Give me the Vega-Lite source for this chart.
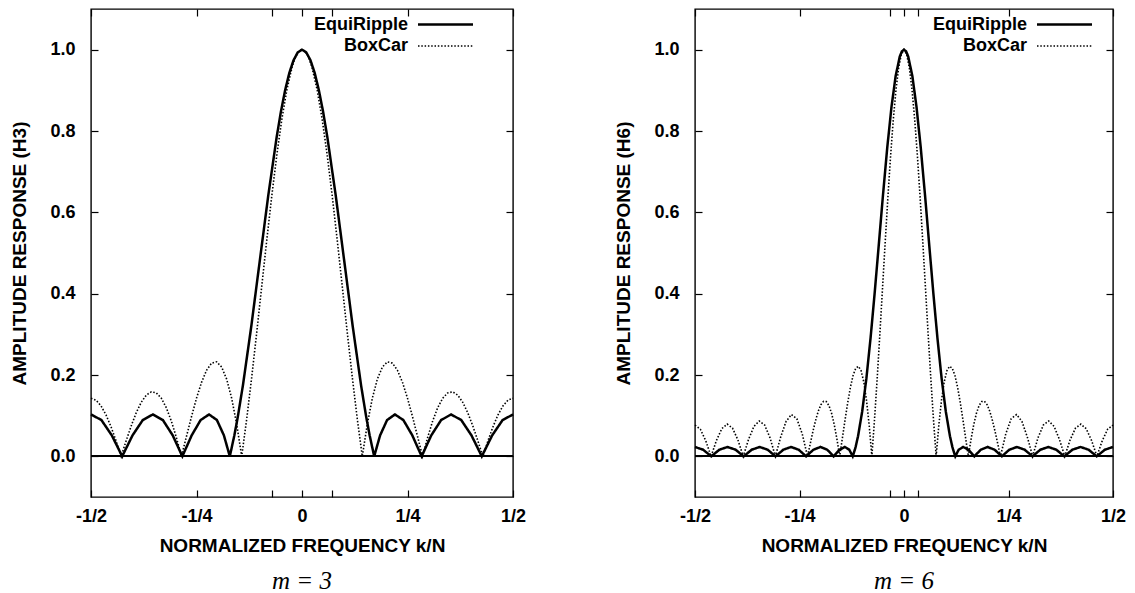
{
  "$schema": "https://vega.github.io/schema/vega-lite/v6.json",
  "padding": {"left": 10, "top": 7, "right": 0, "bottom": 0},
  "background": "white",
  "spacing": 87,
  "config": {
    "font": "Liberation Sans",
    "view": {"stroke": "black", "strokeWidth": 1.4},
    "axis": {
      "grid": false, "domain": false,
      "labelFont": "Liberation Sans", "labelFontWeight": "bold", "labelFontSize": 18, "labelColor": "black",
      "titleFont": "Liberation Sans", "titleFontWeight": "bold", "titleFontSize": 19, "titleColor": "black",
      "tickColor": "black", "tickSize": -7, "tickWidth": 1.2
    },
    "legend": {
      "orient": "none", "padding": 0, "title": null,
      "labelFont": "Liberation Sans", "labelFontWeight": "bold", "labelFontSize": 18, "labelColor": "black",
      "labelAlign": "right", "labelOffset": -50, "symbolType": "M-2.5,0H2.5", "symbolSize": 484,
      "symbolStrokeColor": "black", "rowPadding": -1
    },
    "title": {"font": "Liberation Serif", "fontStyle": "italic", "fontWeight": "normal", "fontSize": 25, "color": "black", "orient": "bottom", "offset": 14}
  },
  "resolve": {"legend": {"strokeDash": "independent", "strokeWidth": "independent"}},
  "datasets": {
    "m3": [
      {"series": "EquiRipple", "freq": -0.5, "amp": 0.103},
      {"series": "EquiRipple", "freq": -0.47531, "amp": 0.0892},
      {"series": "EquiRipple", "freq": -0.45064, "amp": 0.0515},
      {"series": "EquiRipple", "freq": -0.42606, "amp": 0},
      {"series": "EquiRipple", "freq": -0.40161, "amp": 0.0515},
      {"series": "EquiRipple", "freq": -0.37733, "amp": 0.0892},
      {"series": "EquiRipple", "freq": -0.35333, "amp": 0.103},
      {"series": "EquiRipple", "freq": -0.32967, "amp": 0.0892},
      {"series": "EquiRipple", "freq": -0.30631, "amp": 0.0515},
      {"series": "EquiRipple", "freq": -0.28353, "amp": 0},
      {"series": "EquiRipple", "freq": -0.26144, "amp": 0.0515},
      {"series": "EquiRipple", "freq": -0.24022, "amp": 0.0892},
      {"series": "EquiRipple", "freq": -0.22017, "amp": 0.103},
      {"series": "EquiRipple", "freq": -0.20161, "amp": 0.0892},
      {"series": "EquiRipple", "freq": -0.18506, "amp": 0.0515},
      {"series": "EquiRipple", "freq": -0.17106, "amp": 0},
      {"series": "EquiRipple", "freq": -0.16033, "amp": 0.0515},
      {"series": "EquiRipple", "freq": -0.15352, "amp": 0.0892},
      {"series": "EquiRipple", "freq": -0.15119, "amp": 0.103},
      {"series": "EquiRipple", "freq": -0.14, "amp": 0.1745},
      {"series": "EquiRipple", "freq": -0.12, "amp": 0.3211},
      {"series": "EquiRipple", "freq": -0.1, "amp": 0.4812},
      {"series": "EquiRipple", "freq": -0.08, "amp": 0.6409},
      {"series": "EquiRipple", "freq": -0.06, "amp": 0.7853},
      {"series": "EquiRipple", "freq": -0.05, "amp": 0.8473},
      {"series": "EquiRipple", "freq": -0.04, "amp": 0.9002},
      {"series": "EquiRipple", "freq": -0.03, "amp": 0.943},
      {"series": "EquiRipple", "freq": -0.02, "amp": 0.9742},
      {"series": "EquiRipple", "freq": -0.01, "amp": 0.9934},
      {"series": "EquiRipple", "freq": 0, "amp": 1},
      {"series": "EquiRipple", "freq": 0.01, "amp": 0.9934},
      {"series": "EquiRipple", "freq": 0.02, "amp": 0.9742},
      {"series": "EquiRipple", "freq": 0.03, "amp": 0.943},
      {"series": "EquiRipple", "freq": 0.04, "amp": 0.9002},
      {"series": "EquiRipple", "freq": 0.05, "amp": 0.8473},
      {"series": "EquiRipple", "freq": 0.06, "amp": 0.7853},
      {"series": "EquiRipple", "freq": 0.08, "amp": 0.6409},
      {"series": "EquiRipple", "freq": 0.1, "amp": 0.4812},
      {"series": "EquiRipple", "freq": 0.12, "amp": 0.3211},
      {"series": "EquiRipple", "freq": 0.14, "amp": 0.1745},
      {"series": "EquiRipple", "freq": 0.15119, "amp": 0.103},
      {"series": "EquiRipple", "freq": 0.15352, "amp": 0.0892},
      {"series": "EquiRipple", "freq": 0.16033, "amp": 0.0515},
      {"series": "EquiRipple", "freq": 0.17106, "amp": 0},
      {"series": "EquiRipple", "freq": 0.18506, "amp": 0.0515},
      {"series": "EquiRipple", "freq": 0.20161, "amp": 0.0892},
      {"series": "EquiRipple", "freq": 0.22017, "amp": 0.103},
      {"series": "EquiRipple", "freq": 0.24022, "amp": 0.0892},
      {"series": "EquiRipple", "freq": 0.26144, "amp": 0.0515},
      {"series": "EquiRipple", "freq": 0.28353, "amp": 0},
      {"series": "EquiRipple", "freq": 0.30631, "amp": 0.0515},
      {"series": "EquiRipple", "freq": 0.32967, "amp": 0.0892},
      {"series": "EquiRipple", "freq": 0.35333, "amp": 0.103},
      {"series": "EquiRipple", "freq": 0.37733, "amp": 0.0892},
      {"series": "EquiRipple", "freq": 0.40161, "amp": 0.0515},
      {"series": "EquiRipple", "freq": 0.42606, "amp": 0},
      {"series": "EquiRipple", "freq": 0.45064, "amp": 0.0515},
      {"series": "EquiRipple", "freq": 0.47531, "amp": 0.0892},
      {"series": "EquiRipple", "freq": 0.5, "amp": 0.103},
      {"series": "BoxCar", "freq": -0.5, "amp": 0.14286},
      {"series": "BoxCar", "freq": -0.4881, "amp": 0.13809},
      {"series": "BoxCar", "freq": -0.47619, "amp": 0.12407},
      {"series": "BoxCar", "freq": -0.46429, "amp": 0.10165},
      {"series": "BoxCar", "freq": -0.45238, "amp": 0.07224},
      {"series": "BoxCar", "freq": -0.44048, "amp": 0.03763},
      {"series": "BoxCar", "freq": -0.42857, "amp": 0},
      {"series": "BoxCar", "freq": -0.41667, "amp": 0.03828},
      {"series": "BoxCar", "freq": -0.40476, "amp": 0.07475},
      {"series": "BoxCar", "freq": -0.39286, "amp": 0.10702},
      {"series": "BoxCar", "freq": -0.38095, "amp": 0.13291},
      {"series": "BoxCar", "freq": -0.36905, "amp": 0.15055},
      {"series": "BoxCar", "freq": -0.35714, "amp": 0.15856},
      {"series": "BoxCar", "freq": -0.34524, "amp": 0.15608},
      {"series": "BoxCar", "freq": -0.33333, "amp": 0.14286},
      {"series": "BoxCar", "freq": -0.32143, "amp": 0.1193},
      {"series": "BoxCar", "freq": -0.30952, "amp": 0.08645},
      {"series": "BoxCar", "freq": -0.29762, "amp": 0.04595},
      {"series": "BoxCar", "freq": -0.28571, "amp": 0},
      {"series": "BoxCar", "freq": -0.27381, "amp": 0.04878},
      {"series": "BoxCar", "freq": -0.2619, "amp": 0.09744},
      {"series": "BoxCar", "freq": -0.25, "amp": 0.14286},
      {"series": "BoxCar", "freq": -0.2381, "amp": 0.18189},
      {"series": "BoxCar", "freq": -0.22619, "amp": 0.21155},
      {"series": "BoxCar", "freq": -0.21429, "amp": 0.22912},
      {"series": "BoxCar", "freq": -0.20238, "amp": 0.23237},
      {"series": "BoxCar", "freq": -0.19048, "amp": 0.21962},
      {"series": "BoxCar", "freq": -0.17857, "amp": 0.18987},
      {"series": "BoxCar", "freq": -0.16667, "amp": 0.14286},
      {"series": "BoxCar", "freq": -0.15476, "amp": 0.07913},
      {"series": "BoxCar", "freq": -0.14286, "amp": 0},
      {"series": "BoxCar", "freq": -0.13095, "amp": 0.09246},
      {"series": "BoxCar", "freq": -0.11905, "amp": 0.19551},
      {"series": "BoxCar", "freq": -0.10714, "amp": 0.30585},
      {"series": "BoxCar", "freq": -0.09524, "amp": 0.41973},
      {"series": "BoxCar", "freq": -0.08333, "amp": 0.53315},
      {"series": "BoxCar", "freq": -0.07143, "amp": 0.64199},
      {"series": "BoxCar", "freq": -0.05952, "amp": 0.74223},
      {"series": "BoxCar", "freq": -0.04762, "amp": 0.83009},
      {"series": "BoxCar", "freq": -0.03571, "amp": 0.90221},
      {"series": "BoxCar", "freq": -0.02381, "amp": 0.95583},
      {"series": "BoxCar", "freq": -0.01786, "amp": 0.97501},
      {"series": "BoxCar", "freq": -0.0119, "amp": 0.98885},
      {"series": "BoxCar", "freq": -0.00595, "amp": 0.9972},
      {"series": "BoxCar", "freq": 0, "amp": 1},
      {"series": "BoxCar", "freq": 0.00595, "amp": 0.9972},
      {"series": "BoxCar", "freq": 0.0119, "amp": 0.98885},
      {"series": "BoxCar", "freq": 0.01786, "amp": 0.97501},
      {"series": "BoxCar", "freq": 0.02381, "amp": 0.95583},
      {"series": "BoxCar", "freq": 0.03571, "amp": 0.90221},
      {"series": "BoxCar", "freq": 0.04762, "amp": 0.83009},
      {"series": "BoxCar", "freq": 0.05952, "amp": 0.74223},
      {"series": "BoxCar", "freq": 0.07143, "amp": 0.64199},
      {"series": "BoxCar", "freq": 0.08333, "amp": 0.53315},
      {"series": "BoxCar", "freq": 0.09524, "amp": 0.41973},
      {"series": "BoxCar", "freq": 0.10714, "amp": 0.30585},
      {"series": "BoxCar", "freq": 0.11905, "amp": 0.19551},
      {"series": "BoxCar", "freq": 0.13095, "amp": 0.09246},
      {"series": "BoxCar", "freq": 0.14286, "amp": 0},
      {"series": "BoxCar", "freq": 0.15476, "amp": 0.07913},
      {"series": "BoxCar", "freq": 0.16667, "amp": 0.14286},
      {"series": "BoxCar", "freq": 0.17857, "amp": 0.18987},
      {"series": "BoxCar", "freq": 0.19048, "amp": 0.21962},
      {"series": "BoxCar", "freq": 0.20238, "amp": 0.23237},
      {"series": "BoxCar", "freq": 0.21429, "amp": 0.22912},
      {"series": "BoxCar", "freq": 0.22619, "amp": 0.21155},
      {"series": "BoxCar", "freq": 0.2381, "amp": 0.18189},
      {"series": "BoxCar", "freq": 0.25, "amp": 0.14286},
      {"series": "BoxCar", "freq": 0.2619, "amp": 0.09744},
      {"series": "BoxCar", "freq": 0.27381, "amp": 0.04878},
      {"series": "BoxCar", "freq": 0.28571, "amp": 0},
      {"series": "BoxCar", "freq": 0.29762, "amp": 0.04595},
      {"series": "BoxCar", "freq": 0.30952, "amp": 0.08645},
      {"series": "BoxCar", "freq": 0.32143, "amp": 0.1193},
      {"series": "BoxCar", "freq": 0.33333, "amp": 0.14286},
      {"series": "BoxCar", "freq": 0.34524, "amp": 0.15608},
      {"series": "BoxCar", "freq": 0.35714, "amp": 0.15856},
      {"series": "BoxCar", "freq": 0.36905, "amp": 0.15055},
      {"series": "BoxCar", "freq": 0.38095, "amp": 0.13291},
      {"series": "BoxCar", "freq": 0.39286, "amp": 0.10702},
      {"series": "BoxCar", "freq": 0.40476, "amp": 0.07475},
      {"series": "BoxCar", "freq": 0.41667, "amp": 0.03828},
      {"series": "BoxCar", "freq": 0.42857, "amp": 0},
      {"series": "BoxCar", "freq": 0.44048, "amp": 0.03763},
      {"series": "BoxCar", "freq": 0.45238, "amp": 0.07224},
      {"series": "BoxCar", "freq": 0.46429, "amp": 0.10165},
      {"series": "BoxCar", "freq": 0.47619, "amp": 0.12407},
      {"series": "BoxCar", "freq": 0.4881, "amp": 0.13809},
      {"series": "BoxCar", "freq": 0.5, "amp": 0.14286}
    ],
    "m6": [
      {"series": "EquiRipple", "freq": -0.5, "amp": 0.02303},
      {"series": "EquiRipple", "freq": -0.48053, "amp": 0.01628},
      {"series": "EquiRipple", "freq": -0.46107, "amp": 0},
      {"series": "EquiRipple", "freq": -0.44163, "amp": 0.01628},
      {"series": "EquiRipple", "freq": -0.42223, "amp": 0.02303},
      {"series": "EquiRipple", "freq": -0.40287, "amp": 0.01628},
      {"series": "EquiRipple", "freq": -0.38358, "amp": 0},
      {"series": "EquiRipple", "freq": -0.36435, "amp": 0.01628},
      {"series": "EquiRipple", "freq": -0.34523, "amp": 0.02303},
      {"series": "EquiRipple", "freq": -0.32622, "amp": 0.01628},
      {"series": "EquiRipple", "freq": -0.30735, "amp": 0},
      {"series": "EquiRipple", "freq": -0.28867, "amp": 0.01628},
      {"series": "EquiRipple", "freq": -0.27019, "amp": 0.02303},
      {"series": "EquiRipple", "freq": -0.25199, "amp": 0.01628},
      {"series": "EquiRipple", "freq": -0.23413, "amp": 0},
      {"series": "EquiRipple", "freq": -0.2167, "amp": 0.01628},
      {"series": "EquiRipple", "freq": -0.19981, "amp": 0.02303},
      {"series": "EquiRipple", "freq": -0.18361, "amp": 0.01628},
      {"series": "EquiRipple", "freq": -0.16829, "amp": 0},
      {"series": "EquiRipple", "freq": -0.15416, "amp": 0.01628},
      {"series": "EquiRipple", "freq": -0.14153, "amp": 0.02303},
      {"series": "EquiRipple", "freq": -0.13088, "amp": 0.01628},
      {"series": "EquiRipple", "freq": -0.12272, "amp": 0},
      {"series": "EquiRipple", "freq": -0.11754, "amp": 0.01628},
      {"series": "EquiRipple", "freq": -0.11577, "amp": 0.02303},
      {"series": "EquiRipple", "freq": -0.11, "amp": 0.04921},
      {"series": "EquiRipple", "freq": -0.1, "amp": 0.11045},
      {"series": "EquiRipple", "freq": -0.09, "amp": 0.19165},
      {"series": "EquiRipple", "freq": -0.08, "amp": 0.29071},
      {"series": "EquiRipple", "freq": -0.07, "amp": 0.40354},
      {"series": "EquiRipple", "freq": -0.06, "amp": 0.52428},
      {"series": "EquiRipple", "freq": -0.05, "amp": 0.64567},
      {"series": "EquiRipple", "freq": -0.04, "amp": 0.7598},
      {"series": "EquiRipple", "freq": -0.03, "amp": 0.85867},
      {"series": "EquiRipple", "freq": -0.02, "amp": 0.93514},
      {"series": "EquiRipple", "freq": -0.01, "amp": 0.98347},
      {"series": "EquiRipple", "freq": -0.005, "amp": 0.99586},
      {"series": "EquiRipple", "freq": 0, "amp": 1},
      {"series": "EquiRipple", "freq": 0.005, "amp": 0.99586},
      {"series": "EquiRipple", "freq": 0.01, "amp": 0.98347},
      {"series": "EquiRipple", "freq": 0.02, "amp": 0.93514},
      {"series": "EquiRipple", "freq": 0.03, "amp": 0.85867},
      {"series": "EquiRipple", "freq": 0.04, "amp": 0.7598},
      {"series": "EquiRipple", "freq": 0.05, "amp": 0.64567},
      {"series": "EquiRipple", "freq": 0.06, "amp": 0.52428},
      {"series": "EquiRipple", "freq": 0.07, "amp": 0.40354},
      {"series": "EquiRipple", "freq": 0.08, "amp": 0.29071},
      {"series": "EquiRipple", "freq": 0.09, "amp": 0.19165},
      {"series": "EquiRipple", "freq": 0.1, "amp": 0.11045},
      {"series": "EquiRipple", "freq": 0.11, "amp": 0.04921},
      {"series": "EquiRipple", "freq": 0.11577, "amp": 0.02303},
      {"series": "EquiRipple", "freq": 0.11754, "amp": 0.01628},
      {"series": "EquiRipple", "freq": 0.12272, "amp": 0},
      {"series": "EquiRipple", "freq": 0.13088, "amp": 0.01628},
      {"series": "EquiRipple", "freq": 0.14153, "amp": 0.02303},
      {"series": "EquiRipple", "freq": 0.15416, "amp": 0.01628},
      {"series": "EquiRipple", "freq": 0.16829, "amp": 0},
      {"series": "EquiRipple", "freq": 0.18361, "amp": 0.01628},
      {"series": "EquiRipple", "freq": 0.19981, "amp": 0.02303},
      {"series": "EquiRipple", "freq": 0.2167, "amp": 0.01628},
      {"series": "EquiRipple", "freq": 0.23413, "amp": 0},
      {"series": "EquiRipple", "freq": 0.25199, "amp": 0.01628},
      {"series": "EquiRipple", "freq": 0.27019, "amp": 0.02303},
      {"series": "EquiRipple", "freq": 0.28867, "amp": 0.01628},
      {"series": "EquiRipple", "freq": 0.30735, "amp": 0},
      {"series": "EquiRipple", "freq": 0.32622, "amp": 0.01628},
      {"series": "EquiRipple", "freq": 0.34523, "amp": 0.02303},
      {"series": "EquiRipple", "freq": 0.36435, "amp": 0.01628},
      {"series": "EquiRipple", "freq": 0.38358, "amp": 0},
      {"series": "EquiRipple", "freq": 0.40287, "amp": 0.01628},
      {"series": "EquiRipple", "freq": 0.42223, "amp": 0.02303},
      {"series": "EquiRipple", "freq": 0.44163, "amp": 0.01628},
      {"series": "EquiRipple", "freq": 0.46107, "amp": 0},
      {"series": "EquiRipple", "freq": 0.48053, "amp": 0.01628},
      {"series": "EquiRipple", "freq": 0.5, "amp": 0.02303},
      {"series": "BoxCar", "freq": -0.5, "amp": 0.07692},
      {"series": "BoxCar", "freq": -0.48718, "amp": 0.06667},
      {"series": "BoxCar", "freq": -0.47436, "amp": 0.03859},
      {"series": "BoxCar", "freq": -0.46154, "amp": 0},
      {"series": "BoxCar", "freq": -0.44872, "amp": 0.03897},
      {"series": "BoxCar", "freq": -0.4359, "amp": 0.06799},
      {"series": "BoxCar", "freq": -0.42308, "amp": 0.07922},
      {"series": "BoxCar", "freq": -0.41026, "amp": 0.06936},
      {"series": "BoxCar", "freq": -0.39744, "amp": 0.04055},
      {"series": "BoxCar", "freq": -0.38462, "amp": 0},
      {"series": "BoxCar", "freq": -0.37179, "amp": 0.04181},
      {"series": "BoxCar", "freq": -0.35897, "amp": 0.07374},
      {"series": "BoxCar", "freq": -0.34615, "amp": 0.08687},
      {"series": "BoxCar", "freq": -0.33333, "amp": 0.07692},
      {"series": "BoxCar", "freq": -0.32051, "amp": 0.04551},
      {"series": "BoxCar", "freq": -0.30769, "amp": 0},
      {"series": "BoxCar", "freq": -0.29487, "amp": 0.04811},
      {"series": "BoxCar", "freq": -0.28205, "amp": 0.086},
      {"series": "BoxCar", "freq": -0.26923, "amp": 0.10277},
      {"series": "BoxCar", "freq": -0.25641, "amp": 0.09237},
      {"series": "BoxCar", "freq": -0.24359, "amp": 0.05552},
      {"series": "BoxCar", "freq": -0.23077, "amp": 0},
      {"series": "BoxCar", "freq": -0.22436, "amp": 0.03073},
      {"series": "BoxCar", "freq": -0.21795, "amp": 0.06081},
      {"series": "BoxCar", "freq": -0.21154, "amp": 0.0882},
      {"series": "BoxCar", "freq": -0.20513, "amp": 0.11089},
      {"series": "BoxCar", "freq": -0.19872, "amp": 0.12711},
      {"series": "BoxCar", "freq": -0.19231, "amp": 0.13541},
      {"series": "BoxCar", "freq": -0.1859, "amp": 0.13476},
      {"series": "BoxCar", "freq": -0.17949, "amp": 0.12464},
      {"series": "BoxCar", "freq": -0.17308, "amp": 0.10514},
      {"series": "BoxCar", "freq": -0.16667, "amp": 0.07692},
      {"series": "BoxCar", "freq": -0.16026, "amp": 0.04127},
      {"series": "BoxCar", "freq": -0.15385, "amp": 0},
      {"series": "BoxCar", "freq": -0.14744, "amp": 0.04456},
      {"series": "BoxCar", "freq": -0.14103, "amp": 0.08972},
      {"series": "BoxCar", "freq": -0.13462, "amp": 0.13253},
      {"series": "BoxCar", "freq": -0.12821, "amp": 0.16996},
      {"series": "BoxCar", "freq": -0.12179, "amp": 0.19901},
      {"series": "BoxCar", "freq": -0.11538, "amp": 0.21693},
      {"series": "BoxCar", "freq": -0.10897, "amp": 0.22133},
      {"series": "BoxCar", "freq": -0.10256, "amp": 0.21037},
      {"series": "BoxCar", "freq": -0.09615, "amp": 0.18283},
      {"series": "BoxCar", "freq": -0.08974, "amp": 0.13824},
      {"series": "BoxCar", "freq": -0.08333, "amp": 0.07692},
      {"series": "BoxCar", "freq": -0.07692, "amp": 0},
      {"series": "BoxCar", "freq": -0.07051, "amp": 0.09061},
      {"series": "BoxCar", "freq": -0.0641, "amp": 0.19228},
      {"series": "BoxCar", "freq": -0.05769, "amp": 0.30175},
      {"series": "BoxCar", "freq": -0.05128, "amp": 0.41529},
      {"series": "BoxCar", "freq": -0.04487, "amp": 0.52883},
      {"series": "BoxCar", "freq": -0.03846, "amp": 0.63817},
      {"series": "BoxCar", "freq": -0.03205, "amp": 0.73916},
      {"series": "BoxCar", "freq": -0.02564, "amp": 0.82789},
      {"series": "BoxCar", "freq": -0.01923, "amp": 0.90086},
      {"series": "BoxCar", "freq": -0.01282, "amp": 0.95519},
      {"series": "BoxCar", "freq": -0.00641, "amp": 0.98869},
      {"series": "BoxCar", "freq": 0, "amp": 1},
      {"series": "BoxCar", "freq": 0.00641, "amp": 0.98869},
      {"series": "BoxCar", "freq": 0.01282, "amp": 0.95519},
      {"series": "BoxCar", "freq": 0.01923, "amp": 0.90086},
      {"series": "BoxCar", "freq": 0.02564, "amp": 0.82789},
      {"series": "BoxCar", "freq": 0.03205, "amp": 0.73916},
      {"series": "BoxCar", "freq": 0.03846, "amp": 0.63817},
      {"series": "BoxCar", "freq": 0.04487, "amp": 0.52883},
      {"series": "BoxCar", "freq": 0.05128, "amp": 0.41529},
      {"series": "BoxCar", "freq": 0.05769, "amp": 0.30175},
      {"series": "BoxCar", "freq": 0.0641, "amp": 0.19228},
      {"series": "BoxCar", "freq": 0.07051, "amp": 0.09061},
      {"series": "BoxCar", "freq": 0.07692, "amp": 0},
      {"series": "BoxCar", "freq": 0.08333, "amp": 0.07692},
      {"series": "BoxCar", "freq": 0.08974, "amp": 0.13824},
      {"series": "BoxCar", "freq": 0.09615, "amp": 0.18283},
      {"series": "BoxCar", "freq": 0.10256, "amp": 0.21037},
      {"series": "BoxCar", "freq": 0.10897, "amp": 0.22133},
      {"series": "BoxCar", "freq": 0.11538, "amp": 0.21693},
      {"series": "BoxCar", "freq": 0.12179, "amp": 0.19901},
      {"series": "BoxCar", "freq": 0.12821, "amp": 0.16996},
      {"series": "BoxCar", "freq": 0.13462, "amp": 0.13253},
      {"series": "BoxCar", "freq": 0.14103, "amp": 0.08972},
      {"series": "BoxCar", "freq": 0.14744, "amp": 0.04456},
      {"series": "BoxCar", "freq": 0.15385, "amp": 0},
      {"series": "BoxCar", "freq": 0.16026, "amp": 0.04127},
      {"series": "BoxCar", "freq": 0.16667, "amp": 0.07692},
      {"series": "BoxCar", "freq": 0.17308, "amp": 0.10514},
      {"series": "BoxCar", "freq": 0.17949, "amp": 0.12464},
      {"series": "BoxCar", "freq": 0.1859, "amp": 0.13476},
      {"series": "BoxCar", "freq": 0.19231, "amp": 0.13541},
      {"series": "BoxCar", "freq": 0.19872, "amp": 0.12711},
      {"series": "BoxCar", "freq": 0.20513, "amp": 0.11089},
      {"series": "BoxCar", "freq": 0.21154, "amp": 0.0882},
      {"series": "BoxCar", "freq": 0.21795, "amp": 0.06081},
      {"series": "BoxCar", "freq": 0.22436, "amp": 0.03073},
      {"series": "BoxCar", "freq": 0.23077, "amp": 0},
      {"series": "BoxCar", "freq": 0.24359, "amp": 0.05552},
      {"series": "BoxCar", "freq": 0.25641, "amp": 0.09237},
      {"series": "BoxCar", "freq": 0.26923, "amp": 0.10277},
      {"series": "BoxCar", "freq": 0.28205, "amp": 0.086},
      {"series": "BoxCar", "freq": 0.29487, "amp": 0.04811},
      {"series": "BoxCar", "freq": 0.30769, "amp": 0},
      {"series": "BoxCar", "freq": 0.32051, "amp": 0.04551},
      {"series": "BoxCar", "freq": 0.33333, "amp": 0.07692},
      {"series": "BoxCar", "freq": 0.34615, "amp": 0.08687},
      {"series": "BoxCar", "freq": 0.35897, "amp": 0.07374},
      {"series": "BoxCar", "freq": 0.37179, "amp": 0.04181},
      {"series": "BoxCar", "freq": 0.38462, "amp": 0},
      {"series": "BoxCar", "freq": 0.39744, "amp": 0.04055},
      {"series": "BoxCar", "freq": 0.41026, "amp": 0.06936},
      {"series": "BoxCar", "freq": 0.42308, "amp": 0.07922},
      {"series": "BoxCar", "freq": 0.4359, "amp": 0.06799},
      {"series": "BoxCar", "freq": 0.44872, "amp": 0.03897},
      {"series": "BoxCar", "freq": 0.46154, "amp": 0},
      {"series": "BoxCar", "freq": 0.47436, "amp": 0.03859},
      {"series": "BoxCar", "freq": 0.48718, "amp": 0.06667},
      {"series": "BoxCar", "freq": 0.5, "amp": 0.07692}
    ]
  },
  "hconcat": [
    {
      "width": 422, "height": 488,
      "title": {"text": "m = 3"},
      "data": {"name": "m3"},
      "layer": [
        {
          "mark": {"type": "rule", "color": "black", "strokeWidth": 1.4},
          "encoding": {"y": {"datum": 0, "type": "quantitative", "scale": {"domain": [-0.1, 1.1], "nice": false, "zero": false}, "axis": null}}
        },
        {
          "mark": {"type": "line", "color": "black", "strokeCap": "butt"},
          "encoding": {
            "x": {"field": "freq", "type": "quantitative", "scale": {"domain": [-0.5, 0.5], "nice": false, "zero": false},
              "axis": {"orient": "bottom", "title": "NORMALIZED FREQUENCY k/N", "values": [-0.5, -0.25, -0.0714, 0, 0.0714, 0.25, 0.5],
                "labelExpr": "datum.value == -0.5 ? '-1/2' : datum.value == -0.25 ? '-1/4' : datum.value == 0 ? '0' : datum.value == 0.25 ? '1/4' : datum.value == 0.5 ? '1/2' : ''",
                "labelPadding": 17, "titlePadding": 11, "labelFlush": false}},
            "y": {"field": "amp", "type": "quantitative", "scale": {"domain": [-0.1, 1.1], "nice": false, "zero": false},
              "axis": {"orient": "left", "title": "AMPLITUDE RESPONSE (H3)", "values": [0, 0.2, 0.4, 0.6, 0.8, 1], "format": ".1f", "labelPadding": 23, "titlePadding": 20}},
            "strokeDash": {"field": "series", "type": "nominal", "scale": {"domain": ["EquiRipple", "BoxCar"], "range": [[1, 0], [1.5, 1.8]]}, "legend": {"legendX": 342, "legendY": 3}},
            "strokeWidth": {"field": "series", "type": "nominal", "scale": {"domain": ["EquiRipple", "BoxCar"], "range": [2.5, 1.6]}, "legend": {"legendX": 342, "legendY": 3}}
          }
        },
        {
          "mark": {"type": "rule", "opacity": 0},
          "encoding": {
            "x": {"datum": 0, "type": "quantitative", "scale": {"domain": [-0.5, 0.5], "nice": false, "zero": false},
              "axis": {"orient": "top", "labels": false, "title": null, "values": [-0.5, -0.25, -0.0714, 0, 0.0714, 0.25, 0.5]}},
            "y": {"datum": 0, "type": "quantitative", "scale": {"domain": [-0.1, 1.1], "nice": false, "zero": false},
              "axis": {"orient": "right", "labels": false, "title": null, "values": [0, 0.2, 0.4, 0.6, 0.8, 1]}}
          }
        }
      ],
      "resolve": {"axis": {"x": "independent", "y": "independent"}}
    },
    {
      "width": 418, "height": 488,
      "title": {"text": "m = 6"},
      "data": {"name": "m6"},
      "layer": [
        {
          "mark": {"type": "rule", "color": "black", "strokeWidth": 1.4},
          "encoding": {"y": {"datum": 0, "type": "quantitative", "scale": {"domain": [-0.1, 1.1], "nice": false, "zero": false}, "axis": null}}
        },
        {
          "mark": {"type": "line", "color": "black", "strokeCap": "butt"},
          "encoding": {
            "x": {"field": "freq", "type": "quantitative", "scale": {"domain": [-0.5, 0.5], "nice": false, "zero": false},
              "axis": {"orient": "bottom", "title": "NORMALIZED FREQUENCY k/N", "values": [-0.5, -0.25, -0.033, 0, 0.033, 0.25, 0.5],
                "labelExpr": "datum.value == -0.5 ? '-1/2' : datum.value == -0.25 ? '-1/4' : datum.value == 0 ? '0' : datum.value == 0.25 ? '1/4' : datum.value == 0.5 ? '1/2' : ''",
                "labelPadding": 17, "titlePadding": 11, "labelFlush": false}},
            "y": {"field": "amp", "type": "quantitative", "scale": {"domain": [-0.1, 1.1], "nice": false, "zero": false},
              "axis": {"orient": "left", "title": "AMPLITUDE RESPONSE (H6)", "values": [0, 0.2, 0.4, 0.6, 0.8, 1], "format": ".1f", "labelPadding": 23, "titlePadding": 20}},
            "strokeDash": {"field": "series", "type": "nominal", "scale": {"domain": ["EquiRipple", "BoxCar"], "range": [[1, 0], [1.5, 1.8]]}, "legend": {"legendX": 357, "legendY": 3}},
            "strokeWidth": {"field": "series", "type": "nominal", "scale": {"domain": ["EquiRipple", "BoxCar"], "range": [2.5, 1.6]}, "legend": {"legendX": 357, "legendY": 3}}
          }
        },
        {
          "mark": {"type": "rule", "opacity": 0},
          "encoding": {
            "x": {"datum": 0, "type": "quantitative", "scale": {"domain": [-0.5, 0.5], "nice": false, "zero": false},
              "axis": {"orient": "top", "labels": false, "title": null, "values": [-0.5, -0.25, -0.033, 0, 0.033, 0.25, 0.5]}},
            "y": {"datum": 0, "type": "quantitative", "scale": {"domain": [-0.1, 1.1], "nice": false, "zero": false},
              "axis": {"orient": "right", "labels": false, "title": null, "values": [0, 0.2, 0.4, 0.6, 0.8, 1]}}
          }
        }
      ],
      "resolve": {"axis": {"x": "independent", "y": "independent"}}
    }
  ]
}
